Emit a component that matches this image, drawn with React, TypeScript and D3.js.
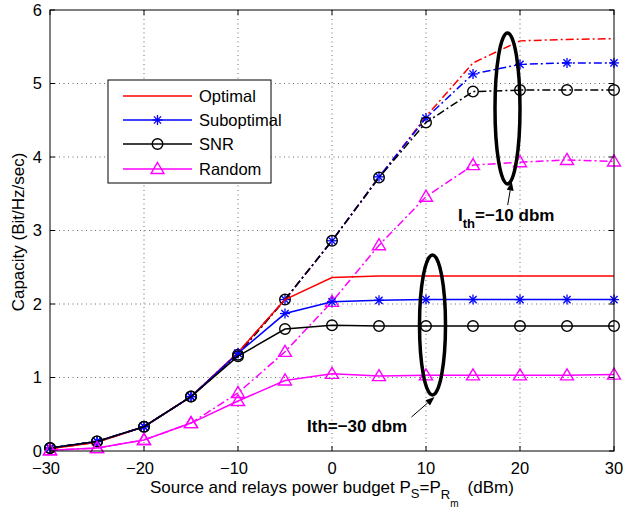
import React from "react";
import * as d3 from "d3";

const xs = [-30, -25, -20, -15, -10, -5, 0, 5, 10, 15, 20, 25, 30];

// Ith = -30 dbm (solid)
const optimal30 = [0.03, 0.12, 0.33, 0.74, 1.34, 2.06, 2.36, 2.38, 2.38, 2.38, 2.38, 2.38, 2.38];
const subopt30 = [0.04, 0.13, 0.33, 0.74, 1.33, 1.87, 2.03, 2.05, 2.06, 2.06, 2.06, 2.06, 2.06];
const snr30 = [0.04, 0.13, 0.33, 0.74, 1.29, 1.66, 1.71, 1.70, 1.70, 1.70, 1.70, 1.70, 1.70];
const random30 = [0.01, 0.04, 0.15, 0.38, 0.68, 0.96, 1.05, 1.02, 1.03, 1.03, 1.03, 1.03, 1.04];

// Ith = -10 dbm (dash-dot)
const optimal10 = [0.03, 0.12, 0.33, 0.74, 1.34, 2.06, 2.86, 3.72, 4.55, 5.28, 5.58, 5.6, 5.61];
const subopt10 = [0.04, 0.13, 0.33, 0.74, 1.33, 2.06, 2.86, 3.73, 4.53, 5.13, 5.26, 5.28, 5.28];
const snr10 = [0.04, 0.13, 0.33, 0.74, 1.31, 2.06, 2.86, 3.72, 4.47, 4.89, 4.91, 4.91, 4.91];
const random10 = [0.01, 0.04, 0.15, 0.38, 0.79, 1.35, 2.03, 2.8, 3.46, 3.89, 3.93, 3.96, 3.94];

const xTicks = [-30, -20, -10, 0, 10, 20, 30];
const yTicks = [0, 1, 2, 3, 4, 5, 6];
const legendNames = ["Optimal", "Suboptimal", "SNR", "Random"];

const W = 623;
const H = 510;
const left = 50, right = 614, top = 10, bottom = 451;
const FONT = "'Liberation Sans', Arial, Helvetica, sans-serif";

const x = d3.scaleLinear().domain([-30, 30]).range([left, right]);
const y = d3.scaleLinear().domain([0, 6]).range([bottom, top]);

const colors = ["#ff0000", "#0000ff", "#000000", "#ff00ff"];
const markers = ["none", "star", "circle", "triangle"];

function Marker({ type, cx, cy, color }: { type: string; cx: number; cy: number; color: string }) {
  if (type === "star") {
    const s = 5, d = 3.6;
    return (
      <g stroke={color} strokeWidth={1.3}>
        <line x1={cx - s} y1={cy} x2={cx + s} y2={cy} />
        <line x1={cx} y1={cy - s} x2={cx} y2={cy + s} />
        <line x1={cx - d} y1={cy - d} x2={cx + d} y2={cy + d} />
        <line x1={cx - d} y1={cy + d} x2={cx + d} y2={cy - d} />
      </g>
    );
  }
  if (type === "circle") {
    return <circle cx={cx} cy={cy} r={5.3} fill="none" stroke={color} strokeWidth={1.4} />;
  }
  if (type === "triangle") {
    const s = 6.5;
    return (
      <path
        d={`M${cx},${cy - s}L${cx + s},${cy + s * 0.7}L${cx - s},${cy + s * 0.7}Z`}
        fill="none"
        stroke={color}
        strokeWidth={1.4}
      />
    );
  }
  return null;
}

function Series({ vals, idx, dash }: { vals: number[]; idx: number; dash?: string }) {
  const line = d3
    .line<number>()
    .x((_, i) => x(xs[i]))
    .y((v) => y(v));
  const c = colors[idx];
  return (
    <g>
      <path d={line(vals) || ""} fill="none" stroke={c} strokeWidth={1.5} strokeDasharray={dash} />
      {vals.map((v, i) => (
        <Marker key={i} type={markers[idx]} cx={x(xs[i])} cy={y(v)} color={c} />
      ))}
    </g>
  );
}

function Arrow({ x1, y1, x2, y2 }: { x1: number; y1: number; x2: number; y2: number }) {
  const ang = Math.atan2(y2 - y1, x2 - x1);
  const L = 9, Wd = 3.5;
  const bx = x2 - L * Math.cos(ang), by = y2 - L * Math.sin(ang);
  const px = -Math.sin(ang) * Wd, py = Math.cos(ang) * Wd;
  return (
    <g>
      <line x1={x1} y1={y1} x2={bx} y2={by} stroke="#000" strokeWidth={1} />
      <path d={`M${x2},${y2}L${bx + px},${by + py}L${bx - px},${by - py}Z`} fill="#000" />
    </g>
  );
}

export default function App() {
  const dashDot = "8,3,2,3";
  const set10 = [optimal10, subopt10, snr10, random10];
  const set30 = [optimal30, subopt30, snr30, random30];
  const legendY = [96, 120, 144, 169];
  return (
    <svg width={W} height={H} style={{ position: "absolute", left: 0, top: 0, background: "#fff" }} fontFamily={FONT}>
      <rect x={0} y={0} width={W} height={H} fill="#fff" />
      {/* grid */}
      <g stroke="#444" strokeWidth={0.8} strokeDasharray="1,3.5">
        {xTicks.slice(1, -1).map((t) => (
          <line key={"gx" + t} x1={x(t)} x2={x(t)} y1={top} y2={bottom} />
        ))}
        {yTicks.slice(1, -1).map((t) => (
          <line key={"gy" + t} x1={left} x2={right} y1={y(t)} y2={y(t)} />
        ))}
      </g>
      {/* series */}
      {set10.map((v, i) => (
        <Series key={"a" + i} vals={v} idx={i} dash={dashDot} />
      ))}
      {set30.map((v, i) => (
        <Series key={"b" + i} vals={v} idx={i} />
      ))}
      {/* axes box & ticks */}
      <rect x={left} y={top} width={right - left} height={bottom - top} fill="none" stroke="#000" strokeWidth={1} />
      <g stroke="#000" strokeWidth={1}>
        {xTicks.map((t) => (
          <g key={"tx" + t}>
            <line x1={x(t)} x2={x(t)} y1={bottom} y2={bottom - 5} />
            <line x1={x(t)} x2={x(t)} y1={top} y2={top + 5} />
          </g>
        ))}
        {yTicks.map((t) => (
          <g key={"ty" + t}>
            <line x1={left} x2={left + 5} y1={y(t)} y2={y(t)} />
            <line x1={right} x2={right - 5} y1={y(t)} y2={y(t)} />
          </g>
        ))}
      </g>
      <g fontSize={16.5} fill="#000">
        {xTicks.map((t) => (
          <text key={"lx" + t} x={x(t) + (t < 0 ? -4 : 0)} y={474} textAnchor="middle">
            {t < 0 ? "\u2212" + Math.abs(t) : String(t)}
          </text>
        ))}
        {yTicks.map((t) => (
          <text key={"ly" + t} x={42} y={y(t) + 5.5} textAnchor="end">
            {t}
          </text>
        ))}
      </g>
      {/* axis labels */}
      <text transform="translate(24,232) rotate(-90)" textAnchor="middle" fontSize={17}>
        Capacity (Bit/Hz/sec)
      </text>
      <text x={150} y={493} fontSize={17}>
        Source and relays power budget P
        <tspan fontSize={13} dy={5}>S</tspan>
        <tspan dy={-5}>=P</tspan>
        <tspan fontSize={13} dy={6}>R</tspan>
        <tspan fontSize={10} dy={8}>m</tspan>
        <tspan dy={-14} dx={9}>(dBm)</tspan>
      </text>
      {/* legend */}
      <rect x={108} y={80} width={163} height={103} fill="#fff" stroke="#000" strokeWidth={1} />
      {legendNames.map((n, i) => (
        <g key={"lg" + i}>
          <line x1={123} x2={192} y1={legendY[i]} y2={legendY[i]} stroke={colors[i]} strokeWidth={1.5} />
          <Marker type={markers[i]} cx={157.5} cy={legendY[i]} color={colors[i]} />
          <text x={199} y={legendY[i] + 6} fontSize={16.5}>
            {n}
          </text>
        </g>
      ))}
      {/* annotations */}
      <ellipse cx={507.5} cy={108.4} rx={12.5} ry={75.5} fill="none" stroke="#000" strokeWidth={3.5} />
      <ellipse cx={432.5} cy={325} rx={13} ry={70} fill="none" stroke="#000" strokeWidth={3.5} />
      <Arrow x1={507.7} y1={205} x2={511.7} y2={181.5} />
      <Arrow x1={411.5} y1={417} x2={434.5} y2={397} />
      <text x={458} y={221} fontSize={17} fontWeight="bold">
        I<tspan fontSize={13} dy={7}>th</tspan>
        <tspan dy={-7}>{"=\u221210 dbm"}</tspan>
      </text>
      <text x={307} y={432} fontSize={17} fontWeight="bold">
        {"Ith=\u221230 dbm"}
      </text>
    </svg>
  );
}
